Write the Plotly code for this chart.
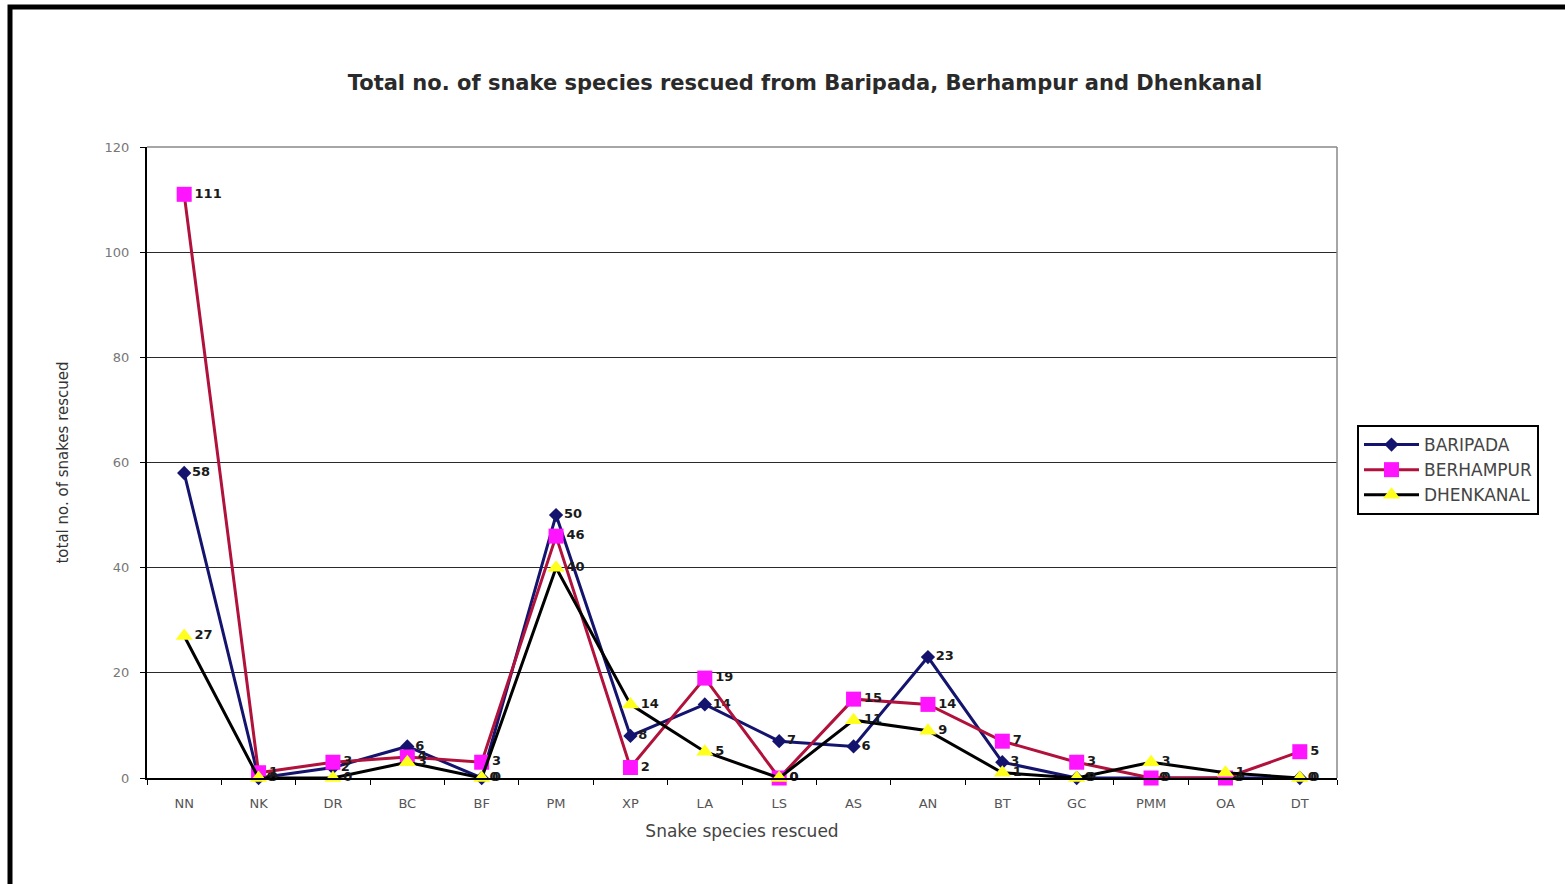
import plotly.graph_objects as go

species = ["NN", "NK", "DR", "BC", "BF", "PM", "XP", "LA", "LS", "AS",
           "AN", "BT", "GC", "PMM", "OA", "DT"]
baripada = [58, 0, 2, 6, 0, 50, 8, 14, 7, 6, 23, 3, 0, 0, 0, 0]
berhampur = [111, 1, 3, 4, 3, 46, 2, 19, 0, 15, 14, 7, 3, 0, 0, 5]
dhenkanal = [27, 0, 0, 3, 0, 40, 14, 5, 0, 11, 9, 1, 0, 3, 1, 0]

y_ticks = [0, 20, 40, 60, 80, 100, 120]

FONT = "DejaVu Sans, Verdana, sans-serif"

series = [
    ("BARIPADA", baripada, "#14146e", "diamond", "#14146e", 11),
    ("BERHAMPUR", berhampur, "#b0123c", "square", "#ff14ff", 15),
    ("DHENKANAL", dhenkanal, "#000000", "triangle-up", "#ffff1e", 15),
]

fig = go.Figure()
for name, vals, line_col, sym, mk_col, size in series:
    fig.add_trace(go.Scatter(
        x=species, y=vals, name=name,
        mode="lines+markers+text",
        text=[str(v) for v in vals],
        textposition="middle right",
        textfont=dict(family=FONT, size=13, color="#1a1a1a", weight="bold"),
        line=dict(color=line_col, width=3),
        marker=dict(symbol=sym, size=size, color=mk_col,
                    line=dict(width=0)),
        cliponaxis=False,
    ))

fig.update_layout(
    width=1565, height=884,
    margin=dict(l=147, r=228, t=147, b=106),
    paper_bgcolor="white", plot_bgcolor="white",
    font=dict(family=FONT, color="#333333"),
    title=dict(
        text="<b>Total no. of snake species rescued from Baripada, Berhampur and Dhenkanal</b>",
        x=805 / 1565, xanchor="center", y=1 - 83 / 884, yanchor="middle",
        font=dict(family=FONT, size=21, color="#2a2a2a"),
    ),
    xaxis=dict(
        type="category", categoryorder="array", categoryarray=species,
        range=[-0.5, 15.5],
        showline=True, linecolor="#000000", linewidth=2,
        ticks="outside", ticklen=5, tickcolor="#000000", tickwidth=1,
        tickson="boundaries",
        ticklabelstandoff=12,
        showgrid=False,
        tickfont=dict(family=FONT, size=13, color="#555555"),
        title=dict(text="Snake species rescued",
                   font=dict(family=FONT, size=17, color="#444444"),
                   standoff=16),
    ),
    yaxis=dict(
        range=[0, 120], tickvals=y_ticks,
        showline=True, linecolor="#000000", linewidth=2,
        ticks="outside", ticklen=5, tickcolor="#000000",
        ticklabelstandoff=8,
        showgrid=True, gridcolor="#2a2a2a", gridwidth=1.3,
        zeroline=False,
        tickfont=dict(family=FONT, size=13, color="#777777"),
        title=dict(text="total no. of snakes rescued",
                   font=dict(family=FONT, size=15, color="#333333"),
                   standoff=32),
    ),
    legend=dict(
        x=(1357 - 147) / 1190, y=(778 - 425) / 631,
        xanchor="left", yanchor="top",
        bordercolor="#000000", borderwidth=2,
        bgcolor="white",
        font=dict(family=FONT, size=17, color="#444444"),
        itemsizing="trace", itemwidth=55, tracegroupgap=0,
    ),
    showlegend=True,
)

# right and top edges of the plotting area
fig.add_shape(type="line", xref="paper", yref="paper",
              x0=1, x1=1, y0=0, y1=1,
              line=dict(color="#888888", width=1.5))
fig.add_shape(type="line", xref="paper", yref="paper",
              x0=0, x1=1, y0=1, y1=1,
              line=dict(color="#888888", width=1.5))

# heavy frame around the whole graphic
fig.add_shape(type="rect", xref="paper", yref="paper",
              x0=(10 - 147) / 1190, x1=(1580 - 147) / 1190,
              y0=(778 - 900) / 631, y1=(778 - 7) / 631,
              line=dict(color="#000000", width=5),
              fillcolor="rgba(0,0,0,0)", layer="below")

fig.write_html("out.html")
